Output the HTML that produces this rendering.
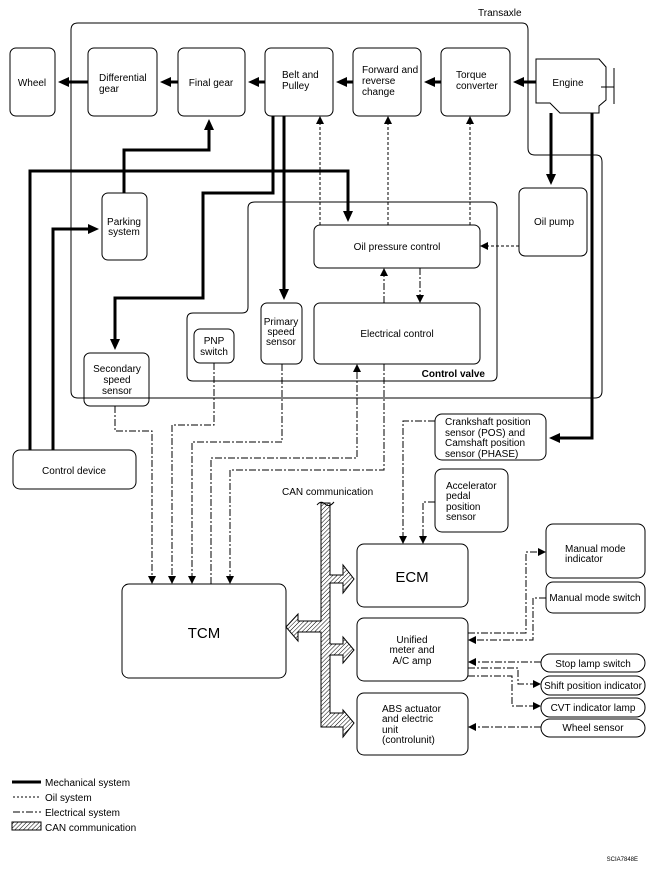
<!DOCTYPE html>
<html><head><meta charset="utf-8"><style>
html,body{margin:0;padding:0;background:#fff;}
svg{display:block;}
text{font-family:"Liberation Sans",Arial,sans-serif;font-size:10px;fill:#000;}
</style></head><body>
<svg width="650" height="871" viewBox="0 0 650 871" xmlns="http://www.w3.org/2000/svg">
<defs>
<marker id="a" markerWidth="8" markerHeight="8" refX="7" refY="4" orient="auto" markerUnits="userSpaceOnUse"><path d="M0,0 L8,4 L0,8 z" fill="#000"/></marker>
<marker id="at" markerWidth="11" markerHeight="10" refX="5" refY="5" orient="auto" markerUnits="userSpaceOnUse"><path d="M0,0 L11,5 L0,10 z" fill="#000"/></marker>
<pattern id="h" patternUnits="userSpaceOnUse" width="3" height="3" patternTransform="rotate(45)"><rect width="3" height="3" fill="#fff"/><line x1="0" y1="0" x2="0" y2="3" stroke="#000" stroke-width="1"/></pattern>
</defs>
<g fill="none" stroke="#000" stroke-width="1">
<path d="M78,23 H522 Q528,23 528,30 V148 Q528,155 535,155 H596 Q602,155 602,162 V391 Q602,398 595,398 H78 Q71,398 71,391 V30 Q71,23 78,23 Z"/>
<path d="M255,202 H491 Q497,202 497,208 V375 Q497,381 491,381 H193 Q187,381 187,375 V319 Q187,313 193,313 H242 Q248,313 248,307 V208 Q248,202 255,202 Z"/>
<rect x="10" y="48" width="45" height="68" rx="6"/>
<rect x="88" y="48" width="69" height="68" rx="6"/>
<rect x="178" y="48" width="67" height="68" rx="6"/>
<rect x="265" y="48" width="68" height="68" rx="6"/>
<rect x="353" y="48" width="68" height="68" rx="6"/>
<rect x="441" y="48" width="69" height="68" rx="6"/>
<path d="M536,59 H599 L606,67 V100 L599,106 V113 H560 L550,103 H536 Z"/>
<line x1="614" y1="68" x2="614" y2="104"/><line x1="601" y1="87" x2="614" y2="87"/>
<rect x="519" y="188" width="68" height="68" rx="6"/>
<rect x="314" y="225" width="166" height="43" rx="6"/>
<rect x="314" y="303" width="166" height="61" rx="6"/>
<rect x="261" y="303" width="41" height="61" rx="6"/>
<rect x="194" y="329" width="40" height="34" rx="6"/>
<rect x="84" y="353" width="65" height="53" rx="6"/>
<rect x="102" y="193" width="45" height="67" rx="6"/>
<rect x="13" y="450" width="123" height="39" rx="7"/>
<rect x="122" y="584" width="164" height="94" rx="7"/>
<rect x="435" y="414" width="111" height="46" rx="7"/>
<rect x="435" y="469" width="73" height="63" rx="7"/>
<rect x="357" y="544" width="111" height="63" rx="7"/>
<rect x="357" y="618" width="111" height="63" rx="7"/>
<rect x="357" y="693" width="111" height="62" rx="7"/>
<rect x="546" y="524" width="99" height="54" rx="7"/>
<rect x="546" y="582" width="99" height="31" rx="7"/>
<rect x="541" y="654" width="104" height="18" rx="9"/>
<rect x="541" y="676" width="104" height="19" rx="9"/>
<rect x="541" y="698" width="104" height="19" rx="9"/>
<rect x="541" y="719" width="104" height="18" rx="9"/>
</g>
<g fill="none" stroke="#000" stroke-width="3" marker-end="url(#at)">
<line x1="536" y1="82" x2="519" y2="82"/>
<line x1="441" y1="82" x2="430" y2="82"/>
<line x1="353" y1="82" x2="342" y2="82"/>
<line x1="265" y1="82" x2="254" y2="82"/>
<line x1="178" y1="82" x2="166" y2="82"/>
<line x1="88" y1="82" x2="64" y2="82"/>
<path d="M124,193 V150 H209 V125"/>
<path d="M273,116 V193 H203 V298 H115 V344"/>
<path d="M284,116 V294"/>
<path d="M30,450 V171 H348 V216"/>
<path d="M53,450 V229 H93"/>
<path d="M551,113 V179"/>
<path d="M592,113 V438 H555"/>
</g>
<line x1="12" y1="782" x2="41" y2="782" stroke="#000" stroke-width="3"/>
<g fill="none" stroke="#000" stroke-width="1" stroke-dasharray="3,2" marker-end="url(#a)">
<line x1="320" y1="225" x2="320" y2="117"/>
<line x1="388" y1="225" x2="388" y2="117"/>
<line x1="470" y1="225" x2="470" y2="117"/>
<line x1="519" y1="246" x2="481" y2="246"/>
</g>
<line x1="13" y1="797" x2="41" y2="797" stroke="#000" stroke-dasharray="2,2"/>
<g fill="none" stroke="#000" stroke-width="1" stroke-dasharray="7,2,2,2" marker-end="url(#a)">
<line x1="384" y1="303" x2="384" y2="269"/>
<line x1="420" y1="268" x2="420" y2="302"/>
<path d="M115,406 V431 H152 V583"/>
<path d="M214,363 V425 H172 V583"/>
<path d="M282,364 V442 H192 V583"/>
<path d="M211,584 V458 H357 V365"/>
<path d="M384,364 V470 H230 V583"/>
<path d="M435,421 H403 V543"/>
<path d="M435,502 H423 V543"/>
<path d="M468,633 H526 V552 H545"/>
<path d="M546,598 H533 V640 H469"/>
<path d="M541,662 H469"/>
<path d="M468,668 H518 V684 H540"/>
<path d="M468,676 H512 V706 H540"/>
<path d="M541,727 H469"/>
</g>
<line x1="13" y1="812" x2="41" y2="812" stroke="#000" stroke-dasharray="7,2,2,2"/>
<g stroke="#000" stroke-width="1" fill="url(#h)">
<path d="M321,503 H330 V575 H343 V565 L354,579 L343,593 V583 H330 V644 H343 V637 L354,650 L343,663 V655 H330 V713 H343 V710 L354,723 L343,737 V727 H321 V632 H298 V641 L286,627 L298,614 V621 H321 Z"/>
<rect x="12" y="822" width="29" height="8"/>
</g>
<path d="M317,505 Q321,500 325,504 T334,502" fill="none" stroke="#000"/>
<text x="478" y="16">Transaxle</text>
<text x="32" y="86" text-anchor="middle">Wheel</text>
<text x="99" y="81">Differential</text><text x="99" y="92">gear</text>
<text x="211" y="86" text-anchor="middle">Final gear</text>
<text x="282" y="78">Belt and</text><text x="282" y="89">Pulley</text>
<text x="362" y="73">Forward and</text><text x="362" y="84">reverse</text><text x="362" y="95">change</text>
<text x="456" y="78">Torque</text><text x="456" y="89">converter</text>
<text x="568" y="86" text-anchor="middle">Engine</text>
<text x="554" y="225" text-anchor="middle">Oil pump</text>
<text x="397" y="250" text-anchor="middle">Oil pressure control</text>
<text x="397" y="337" text-anchor="middle">Electrical control</text>
<text x="281" y="325" text-anchor="middle">Primary</text><text x="281" y="335" text-anchor="middle">speed</text><text x="281" y="345" text-anchor="middle">sensor</text>
<text x="214" y="344" text-anchor="middle">PNP</text><text x="214" y="355" text-anchor="middle">switch</text>
<text x="117" y="372" text-anchor="middle">Secondary</text><text x="117" y="383" text-anchor="middle">speed</text><text x="117" y="394" text-anchor="middle">sensor</text>
<text x="124" y="225" text-anchor="middle">Parking</text><text x="124" y="235" text-anchor="middle">system</text>
<text x="485" y="377" text-anchor="end" style="font-weight:bold">Control valve</text>
<text x="74" y="474" text-anchor="middle">Control device</text>
<text x="204" y="638" text-anchor="middle" style="font-size:15px">TCM</text>
<text x="282" y="495">CAN communication</text>
<text x="445" y="425">Crankshaft position</text><text x="445" y="436">sensor (POS) and</text><text x="445" y="446">Camshaft position</text><text x="445" y="457">sensor (PHASE)</text>
<text x="446" y="489">Accelerator</text><text x="446" y="499">pedal</text><text x="446" y="510">position</text><text x="446" y="520">sensor</text>
<text x="412" y="582" text-anchor="middle" style="font-size:15px">ECM</text>
<text x="412" y="643" text-anchor="middle">Unified</text><text x="412" y="653" text-anchor="middle">meter and</text><text x="412" y="664" text-anchor="middle">A/C amp</text>
<text x="382" y="712">ABS actuator</text><text x="382" y="722">and electric</text><text x="382" y="733">unit</text><text x="382" y="743">(controlunit)</text>
<text x="565" y="552">Manual mode</text><text x="565" y="562">indicator</text>
<text x="595" y="601" text-anchor="middle">Manual mode switch</text>
<text x="593" y="667" text-anchor="middle">Stop lamp switch</text>
<text x="593" y="689" text-anchor="middle">Shift position indicator</text>
<text x="593" y="711" text-anchor="middle">CVT indicator lamp</text>
<text x="593" y="731" text-anchor="middle">Wheel sensor</text>
<text x="45" y="786">Mechanical system</text>
<text x="45" y="801">Oil system</text>
<text x="45" y="816">Electrical system</text>
<text x="45" y="831">CAN communication</text>
<text x="638" y="861" text-anchor="end" style="font-size:6px">SCIA7848E</text>
</svg>
</body></html>
